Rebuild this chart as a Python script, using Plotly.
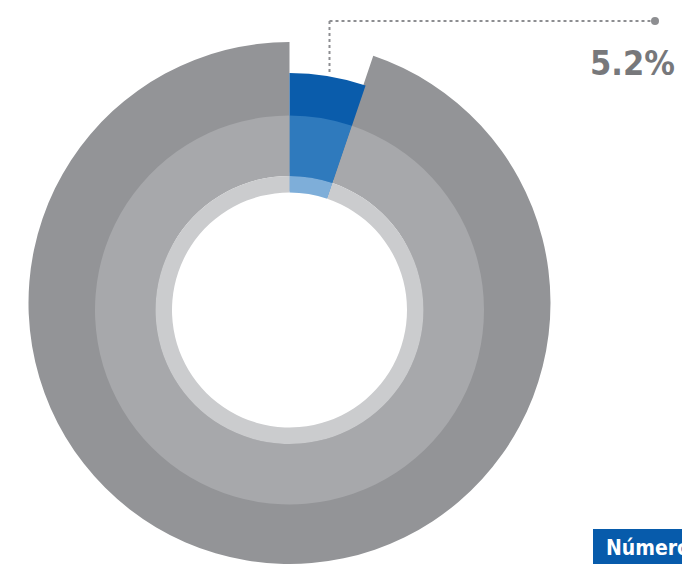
import plotly.graph_objects as go

W, H = 682, 564

# Data
share_labels = ["Segmento", "Resto"]
share_values = [5.2, 94.8]
label_text = "5.2%"
box_text = "Número"

# Colours
outer_gray = "#939497"
outer_blue = "#0a5cab"
mid_gray = "#a7a8ab"
mid_blue = "#2f7abd"
inner_gray = "#cbccce"
inner_blue = "#7eaed9"
clear = "rgba(0,0,0,0)"


def dom(cx, cy, r):
    return dict(x=[(cx - r) / W, (cx + r) / W],
                y=[(H - cy - r) / H, (H - cy + r) / H])


def ring(colors, cx, cy, r, hole):
    return go.Pie(labels=share_labels, values=share_values, sort=False,
                  direction="clockwise", rotation=0,
                  marker=dict(colors=colors, line=dict(width=0)),
                  textinfo="none", hoverinfo="none", showlegend=False,
                  domain=dom(cx, cy, r), hole=hole)


cx, cy = 289.5, 310
fig = go.Figure()
fig.add_trace(ring([clear, outer_gray], cx, 303, 261, 0.5))
fig.add_trace(ring([outer_blue, clear], cx, cy, 237, 0.5))
fig.add_trace(ring([mid_blue, mid_gray], cx, cy, 194.5, 134 / 194.5))
fig.add_trace(ring([inner_blue, inner_gray], cx, cy, 134, 117.5 / 134))


def px(x):
    return x / W


def py(y):
    return 1 - y / H


line_col = "#8d8e91"
fig.add_shape(type="line", xref="paper", yref="paper",
              x0=px(329.5), y0=py(72), x1=px(329.5), y1=py(21),
              line=dict(color=line_col, width=2, dash="dot"))
fig.add_shape(type="line", xref="paper", yref="paper",
              x0=px(329.5), y0=py(21), x1=px(655), y1=py(21),
              line=dict(color=line_col, width=2, dash="dot"))
fig.add_shape(type="circle", xref="paper", yref="paper",
              x0=px(651), y0=py(17), x1=px(659), y1=py(25),
              fillcolor=line_col, line=dict(width=0))

cond = "DejaVu Sans Condensed, Liberation Sans Narrow, sans-serif"
fig.add_annotation(x=px(677), y=py(63), xref="paper", yref="paper",
                   xanchor="right", yanchor="middle", showarrow=False,
                   text="<b>" + label_text + "</b>",
                   font=dict(family=cond, size=34, color="#77787b"))

fig.add_shape(type="rect", xref="paper", yref="paper",
              x0=px(593), y0=py(529), x1=px(682), y1=py(564),
              fillcolor="#075bab", line=dict(width=0), layer="above")
fig.add_annotation(x=px(604), y=py(548), xref="paper", yref="paper",
                   xanchor="left", yanchor="middle", showarrow=False,
                   text="<b>" + box_text + "</b>",
                   font=dict(family=cond, size=21, color="white"))

fig.update_layout(width=W, height=H, margin=dict(l=0, r=0, t=0, b=0),
                  paper_bgcolor="white", plot_bgcolor="white")

fig.write_html("out.html", config={"displayModeBar": False},
               post_script="document.body.style.margin='0px';")
